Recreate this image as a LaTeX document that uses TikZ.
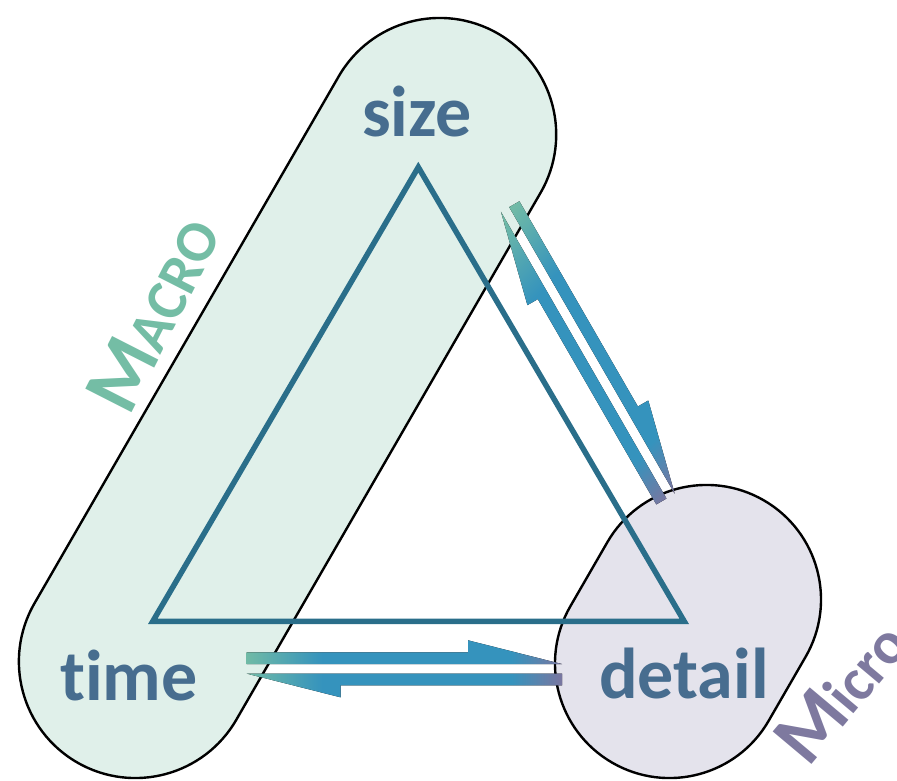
\documentclass[tikz,border=0pt]{standalone}
\usepackage{fontspec}
\setmainfont{Carlito}[Ligatures={NoCommon}]
\usetikzlibrary{shapes.misc}
\definecolor{macrofill}{HTML}{E0F0EA}
\definecolor{microfill}{HTML}{E4E3EC}
\definecolor{tricol}{HTML}{2A6E8A}
\definecolor{wordcol}{HTML}{476D8F}
\definecolor{macrocol}{HTML}{74BDA5}
\definecolor{microcol}{HTML}{7E799F}
\definecolor{agreen}{HTML}{70BAA6}
\definecolor{ablue}{HTML}{3593BD}
\definecolor{apurple}{HTML}{7A76A0}
\pgfdeclarehorizontalshading{harpH}{100bp}{color(0bp)=(agreen); color(25bp)=(agreen); color(37bp)=(ablue); color(67bp)=(ablue); color(75bp)=(apurple); color(100bp)=(apurple)}
\pgfdeclarehorizontalshading{harpD}{100bp}{color(0bp)=(agreen); color(16bp)=(agreen); color(33bp)=(ablue); color(74bp)=(ablue); color(85bp)=(apurple); color(100bp)=(apurple)}
% #1 start coordinate, #2 rotation, #3 length, #4 shading, #5 shading angle
\newcommand\harpoonpair[5]{%
  \begin{scope}[shift={(#1)}, rotate=#2]
    \fill[shading=#4, shading angle=#5] (0,-4.75) -- (#3,-4.75) -- ({#3-94},-28.5) -- ({#3-94},-16.5) -- (0,-16.5) -- cycle;
    \fill[shading=#4, shading angle=#5] (#3,4.75) -- (0,4.75) -- (94,28.5) -- (94,16.5) -- (#3,16.5) -- cycle;
  \end{scope}}
\begin{document}
\begin{tikzpicture}[x=1pt,y=-1pt,
  capsule/.style={rounded rectangle, draw=black, line width=2.4pt, inner sep=0pt, outer sep=0pt},
  word/.style={font=\fontsize{72}{80}\selectfont\bfseries, text=wordcol, inner sep=0pt, anchor=base},
  tri/.style={draw=tricol, line width=5.5pt, miter limit=10}]
\useasboundingbox (0,0) rectangle (897,781);
% capsules
\node[capsule, fill=macrofill, minimum width=841.6pt, minimum height=233pt, rotate=60] (macro) at (287.55,398) {};
\node[capsule, fill=microfill, minimum width=303pt, minimum height=229pt, rotate=60] (micro) at (688,631.5) {};
% triangle
\coordinate (apex) at (418.3,167.2);
\coordinate (bl) at (152.8,621.3);
\coordinate (br) at (684.2,621.3);
\draw[tri] (apex) -- (br) -- (bl) -- cycle;
% words
\node[word] (size) at (417,136.7) {size};
\node[word] (time) at (129,700) {time};
\node[word] (detail) at (684,698) {detail};
% arrows
\coordinate (sd1) at (505.1,209.5);
\coordinate (sd2) at (670.6,496.1);
\coordinate (td1) at (246.5,668.8);
\coordinate (td2) at (562,668.8);
\harpoonpair{sd1}{-60}{331}{harpD}{-45}
\harpoonpair{td1}{0}{315.5}{harpH}{0}
% labels
\node[rotate=63, anchor=base west, inner sep=0pt, text=macrocol, font=\bfseries] (macrolabel) at (129,418)
  {\fontsize{80}{82}\selectfont M\fontsize{58}{60}\selectfont ACRO};
\node[rotate=50, anchor=base west, inner sep=0pt, text=microcol, font=\bfseries] (microlabel) at (808,769)
  {\fontsize{78}{80}\selectfont M\fontsize{60}{62}\selectfont icro};
\end{tikzpicture}
\end{document}
